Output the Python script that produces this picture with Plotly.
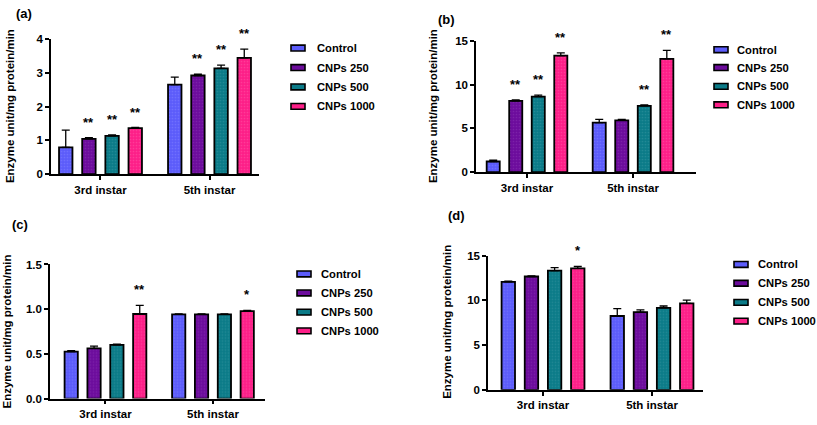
import plotly.graph_objects as go

# ---------------- data ----------------
instars = ["3rd instar", "5th instar"]
series = ["Control", "CNPs 250", "CNPs 500", "CNPs 1000"]
colors = ["#5c5cfa", "#6c0c9c", "#0b7b88", "#fd1f88"]
dot_colors = ["#8484ff", "#8a36b4", "#3a98a2", "#ff5aa8"]

# rows = series (Control, CNPs 250, CNPs 500, CNPs 1000); columns = instars
a_mean = [[0.79, 2.65], [1.045, 2.92], [1.13, 3.13], [1.36, 3.44]]
a_err = [[0.51, 0.22], [0.035, 0.04], [0.03, 0.10], [0.02, 0.26]]
a_stars = [["", ""], ["**", "**"], ["**", "**"], ["**", "**"]]

b_mean = [[1.22, 5.67], [8.15, 5.93], [8.63, 7.59], [13.33, 12.96]]
b_err = [[0.15, 0.37], [0.11, 0.11], [0.18, 0.11], [0.30, 0.97]]
b_stars = [["", ""], ["**", ""], ["**", "**"], ["**", "**"]]

c_mean = [[0.525, 0.942], [0.562, 0.942], [0.601, 0.942], [0.946, 0.978]]
c_err = [[0.011, 0.006], [0.025, 0.006], [0.007, 0.006], [0.097, 0.008]]
c_stars = [["", ""], ["", ""], ["", ""], ["**", "*"]]

d_mean = [[12.07, 8.26], [12.68, 8.70], [13.33, 9.16], [13.59, 9.67]]
d_err = [[0.10, 0.83], [0.07, 0.25], [0.33, 0.22], [0.21, 0.36]]
d_stars = [["", ""], ["", ""], ["", ""], ["*", ""]]

y_title = "Enzyme unit/mg protein/min"

# ---------------- layout helpers ----------------
W, H = 817, 425
FONT = "Liberation Sans, Arial, sans-serif"
BARGAP = 0.15
BARGROUPGAP = 0.42


def px(x):
    return x / W


def py(y):
    return 1 - y / H


panels = [
    dict(tag="(a)", mean=a_mean, err=a_err, stars=a_stars,
         xpx=(51, 259), ypx=(173, 34), yr=[0, 4], dtick=1, fmt="",
         xr=[-0.454, 1.454], lab=(24, 8), tit=(10, 103),
         sw=298, tx=315, rows=[43.3, 63.3, 83.3, 103.3]),
    dict(tag="(b)", mean=b_mean, err=b_err, stars=b_stars,
         xpx=(476, 696), ypx=(171, 36), yr=[0, 15], dtick=5, fmt="",
         xr=[-0.481, 1.594], lab=(446, 14), tit=(433, 103),
         sw=721, tx=735, rows=[45, 63.3, 82.7, 101.7]),
    dict(tag="(c)", mean=c_mean, err=c_err, stars=c_stars,
         xpx=(50, 265), ypx=(404, 266), yr=[0, 1.5], dtick=0.5, fmt=".1f",
         xr=[-0.516, 1.484], lab=(20, 225), tit=(7, 335),
         sw=304, tx=319, rows=[275.7, 295.3, 315, 334.3]),
    dict(tag="(d)", mean=d_mean, err=d_err, stars=d_stars,
         xpx=(488, 703), ypx=(395, 257), yr=[0, 15], dtick=5, fmt="",
         xr=[-0.505, 1.468], lab=(456, 216), tit=(447, 325),
         sw=741, tx=756, rows=[266, 285.3, 305, 324.3]),
]

fig = go.Figure()
annotations = []
shapes = []
slot = (1 - BARGAP) / len(series)

for p_i, p in enumerate(panels):
    sfx = "" if p_i == 0 else str(p_i + 1)
    xref, yref = "x" + sfx, "y" + sfx
    for s_i, name in enumerate(series):
        fig.add_trace(go.Bar(
            x=instars, y=p["mean"][s_i], name=name, showlegend=False,
            xaxis=xref, yaxis=yref,
            marker=dict(color=colors[s_i],
                        line=dict(color="black", width=1.8),
                        pattern=dict(shape=".", fgcolor=dot_colors[s_i],
                                     size=3, solidity=0.25)),
            error_y=dict(type="data", symmetric=False, array=p["err"][s_i],
                         arrayminus=[0] * len(instars), color="black",
                         thickness=1.3, width=4),
        ))
        # significance stars above error bars
        off = -(1 - BARGAP) / 2 + (s_i + 0.5) * slot
        for c_i in range(len(instars)):
            st = p["stars"][s_i][c_i]
            if st:
                annotations.append(dict(
                    x=c_i + off, y=p["mean"][s_i][c_i] + p["err"][s_i][c_i],
                    xref=xref, yref=yref, text=st, showarrow=False,
                    yanchor="bottom", yshift=6,
                    font=dict(family=FONT, size=13, color="black", weight="bold")))
        # legend swatch + text
        ry = p["rows"][s_i]
        shapes.append(dict(type="rect", xref="paper", yref="paper",
                           x0=px(p["sw"] - 7), x1=px(p["sw"] + 7),
                           y0=py(ry + 3), y1=py(ry - 3),
                           fillcolor=colors[s_i],
                           line=dict(color="black", width=1.6)))
        annotations.append(dict(x=px(p["tx"]), y=py(ry), xref="paper", yref="paper",
                                text=name, showarrow=False, xanchor="left",
                                yanchor="middle",
                                font=dict(family=FONT, size=11.2, color="black",
                                          weight="bold")))
    # panel label
    annotations.append(dict(x=px(p["lab"][0]), y=py(p["lab"][1]), xref="paper",
                            yref="paper", text=p["tag"], showarrow=False,
                            xanchor="center", yanchor="middle",
                            font=dict(family=FONT, size=13, color="black",
                                      weight="bold")))
    # y title
    annotations.append(dict(x=px(p["tit"][0]), y=py(p["tit"][1]), xref="paper",
                            yref="paper", text=y_title, showarrow=False,
                            textangle=-90, xanchor="center", yanchor="middle",
                            font=dict(family=FONT, size=11.5, color="black",
                                      weight="bold")))

    axfont = dict(family=FONT, size=11.5, color="black", weight="bold")
    fig.update_layout(**{
        "xaxis" + sfx: dict(domain=[px(p["xpx"][0]), px(p["xpx"][1])],
                            anchor=yref, type="category", range=p["xr"],
                            showline=True, linecolor="black", linewidth=1.5,
                            ticks="outside", ticklen=4, tickwidth=1.5,
                            tickcolor="black", tickfont=axfont,
                            showgrid=False, zeroline=False, fixedrange=True),
        "yaxis" + sfx: dict(domain=[py(p["ypx"][0]), py(p["ypx"][1])],
                            anchor=xref, range=p["yr"], dtick=p["dtick"],
                            tick0=0, tickformat=p["fmt"],
                            showline=True, linecolor="black", linewidth=1.5,
                            ticks="outside", ticklen=4, tickwidth=1.5,
                            tickcolor="black", tickfont=axfont,
                            showgrid=False, zeroline=False, fixedrange=True),
    })

fig.update_layout(
    width=W, height=H,
    margin=dict(l=0, r=0, t=0, b=0),
    paper_bgcolor="white", plot_bgcolor="white",
    barmode="group", bargap=BARGAP, bargroupgap=BARGROUPGAP,
    showlegend=False,
    annotations=annotations, shapes=shapes,
    font=dict(family=FONT, color="black"),
)

fig.write_html("out.html",
               config={"displayModeBar": False},
               post_script="document.body.style.margin='0';"
                           "document.body.style.overflow='hidden';")
